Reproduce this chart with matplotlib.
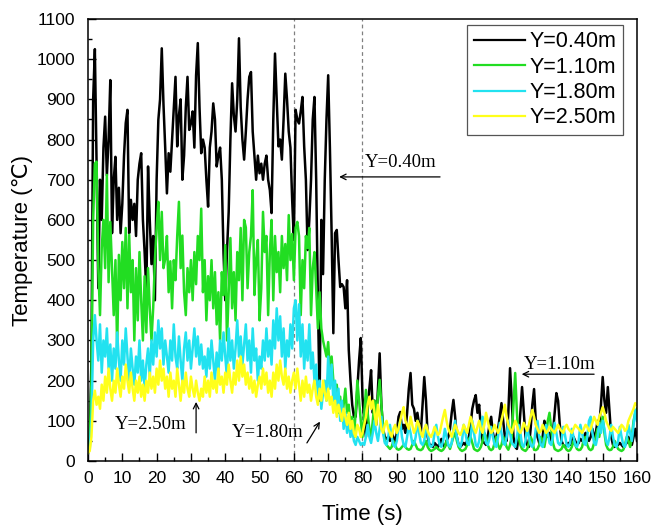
import numpy as np
import matplotlib
matplotlib.use("Agg")
import matplotlib.pyplot as plt

# ---------------- data (0.5 s sampling) ----------------
time_s = np.arange(0, 160.01, 0.5)

y040 = [
    20, 60, 250, 900, 1025, 740, 430, 700, 600, 780, 857, 711, 800, 948, 567, 700, 757, 600, 680, 567,
    640, 760, 841, 874, 567, 650, 600, 640, 560, 700, 740, 766, 600, 520, 418, 733, 600, 490, 560, 400,
    700, 849, 900, 1027, 887, 780, 666, 766, 720, 800, 880, 956, 783, 860, 900, 700, 760, 880, 956, 824,
    840, 870, 780, 960, 1040, 880, 766, 800, 780, 700, 633, 780, 820, 890, 850, 733, 760, 780, 700, 516,
    400, 520, 620, 800, 940, 860, 820, 900, 1052, 880, 800, 750, 820, 900, 956, 968, 820, 760, 700, 760,
    716, 740, 700, 740, 760, 700, 674, 617, 850, 1014, 900, 783, 800, 750, 850, 964, 900, 820, 780, 650,
    550, 874, 850, 840, 870, 906, 783, 700, 525, 600, 700, 850, 906, 700, 400, 150, 600, 465, 700, 850,
    960, 780, 567, 318, 567, 575, 500, 433, 440, 433, 380, 450, 276, 200, 140, 110, 110, 180, 250, 306,
    160, 100, 60, 130, 180, 226, 120, 150, 90, 180, 268, 140, 80, 60, 55, 60, 50, 70, 60, 45,
    70, 110, 122, 80, 90, 70, 120, 180, 219, 140, 130, 100, 120, 90, 70, 140, 209, 150, 60, 40,
    40, 35, 45, 40, 35, 45, 55, 40, 35, 50, 60, 80, 120, 152, 110, 60, 40, 35, 40, 45,
    40, 50, 60, 90, 130, 150, 164, 120, 140, 80, 50, 45, 40, 60, 90, 110, 70, 50, 60, 80,
    110, 144, 100, 60, 50, 120, 231, 150, 60, 35, 30, 60, 120, 184, 120, 60, 40, 35, 80, 140,
    179, 100, 60, 45, 40, 60, 100, 90, 60, 70, 50, 70, 120, 169, 150, 90, 50, 40, 35, 40,
    45, 40, 50, 60, 50, 40, 45, 55, 50, 60, 70, 60, 50, 60, 80, 60, 70, 100, 90, 140,
    209, 150, 120, 184, 120, 60, 40, 35, 40, 40, 45, 40, 35, 40, 45, 60, 50, 40, 60, 80,
    50,
]

y110 = [
    20, 40, 200, 600, 740, 745, 480, 363, 530, 600, 480, 712, 445, 595, 480, 363, 500, 281, 513, 400,
    545, 430, 580, 380, 563, 420, 500, 300, 480, 350, 520, 400, 300, 460, 320, 480, 380, 300, 381, 500,
    580, 645, 500, 620, 480, 503, 560, 420, 497, 380, 500, 450, 560, 645, 480, 561, 420, 363, 480, 420,
    500, 400, 520, 440, 560, 500, 628, 420, 500, 350, 460, 400, 500, 380, 470, 340, 420, 300, 470, 413,
    537, 300, 420, 555, 380, 470, 350, 520, 450, 580, 400, 600, 581, 430, 520, 560, 674, 413, 500, 550,
    350, 430, 620, 520, 560, 363, 520, 600, 400, 560, 470, 520, 420, 560, 480, 540, 450, 612, 500, 565,
    450, 580, 595, 560, 363, 500, 430, 560, 530, 580, 363, 480, 520, 430, 330, 420, 330, 300, 280, 260,
    296, 220, 260, 200, 150, 190, 120, 160, 100, 140, 180, 120, 140, 80, 110, 60, 120, 200, 150, 100,
    60, 120, 177, 120, 80, 60, 100, 150, 120, 160, 202, 140, 80, 50, 40, 35, 30, 35, 50, 40,
    30, 28, 30, 35, 40, 35, 30, 28, 30, 40, 50, 40, 30, 28, 27, 30, 40, 50, 35, 28,
    25, 27, 30, 35, 30, 27, 25, 28, 35, 50, 40, 30, 45, 60, 70, 50, 35, 28, 25, 27,
    30, 40, 55, 60, 45, 30, 27, 25, 28, 35, 50, 70, 60, 40, 30, 27, 30, 45, 60, 40,
    30, 40, 60, 50, 35, 28, 40, 60, 140, 219, 120, 60, 40, 30, 27, 25, 30, 45, 60, 50,
    28, 27, 30, 40, 60, 50, 35, 60, 100, 120, 80, 45, 30, 27, 25, 27, 30, 40, 35, 28,
    25, 27, 35, 50, 40, 30, 27, 28, 35, 55, 60, 40, 30, 27, 30, 45, 60, 80, 60, 90,
    110, 70, 40, 30, 27, 28, 35, 50, 40, 30, 27, 25, 28, 40, 60, 50, 35, 60, 100, 120,
    130,
]

y180 = [
    20, 30, 100, 300, 363, 300, 250, 340, 220, 300, 260, 330, 230, 290, 200, 280, 230, 320, 250, 200,
    300, 240, 330, 260, 200, 280, 230, 190, 260, 220, 300, 200, 250, 180, 240, 280, 210, 300, 240, 320,
    260, 350, 280, 330, 240, 300, 260, 220, 300, 250, 340, 260, 230, 310, 250, 200, 280, 320, 250, 300,
    230, 280, 330, 260, 310, 240, 290, 230, 260, 210, 280, 230, 300, 250, 200, 270, 220, 300, 250, 320,
    260, 210, 330, 250, 300, 230, 280, 350, 260, 310, 240, 290, 340, 250, 300, 220, 330, 250, 280, 200,
    260, 230, 300, 250, 330, 260, 300, 240, 350, 280, 380, 300, 360, 260, 330, 230, 300, 260, 340, 280,
    380, 400, 300, 390, 260, 340, 230, 300, 250, 340, 230, 270, 200, 240, 160, 200, 130, 170, 200, 150,
    260, 180, 240, 150, 200, 120, 180, 100, 150, 80, 120, 70, 100, 60, 80, 50, 40, 60, 50, 40,
    45, 40, 60, 90, 60, 45, 70, 100, 70, 50, 80, 110, 70, 45, 40, 60, 90, 60, 40, 35,
    50, 80, 100, 60, 40, 35, 60, 90, 70, 45, 40, 60, 100, 70, 45, 40, 50, 90, 70, 40,
    35, 40, 70, 90, 60, 40, 35, 50, 80, 60, 40, 35, 45, 80, 100, 60, 40, 35, 50, 90,
    70, 45, 40, 60, 100, 70, 40, 35, 50, 90, 110, 70, 45, 40, 55, 85, 60, 40, 35, 60,
    95, 70, 45, 40, 60, 100, 70, 45, 40, 35, 60, 90, 70, 40, 35, 50, 85, 60, 40, 35,
    45, 80, 100, 60, 40, 35, 55, 90, 70, 45, 40, 60, 95, 70, 45, 40, 50, 85, 65, 40,
    35, 45, 80, 60, 40, 35, 50, 90, 70, 45, 40, 60, 100, 110, 70, 45, 40, 60, 95, 70,
    100, 80, 50, 40, 60, 90, 60, 40, 35, 50, 85, 60, 40, 35, 55, 90, 70, 50, 90, 127,
    100,
]

y250 = [
    20, 25, 60, 150, 175, 140, 160, 130, 190, 150, 210, 170, 230, 180, 150, 200, 170, 230, 190, 160,
    210, 180, 240, 200, 170, 220, 180, 150, 200, 170, 210, 160, 190, 150, 200, 170, 220, 180, 210, 170,
    230, 190, 250, 200, 230, 180, 210, 160, 220, 180, 200, 160, 230, 190, 150, 200, 170, 220, 180, 160,
    210, 180, 160, 200, 170, 150, 180, 160, 210, 170, 200, 160, 220, 180, 200, 170, 230, 190, 210, 170,
    220, 190, 240, 200, 170, 220, 190, 250, 200, 260, 210, 240, 190, 220, 180, 210, 170, 200, 160, 190,
    210, 180, 230, 190, 220, 170, 200, 160, 220, 180, 240, 200, 250, 210, 190, 230, 180, 210, 170, 200,
    220, 180, 230, 190, 150, 200, 160, 210, 170, 190, 150, 180, 200, 160, 140, 180, 150, 200, 170, 150,
    180, 140, 160, 120, 150, 110, 140, 120, 100, 130, 110, 90, 120, 80, 100, 70, 60, 90, 80, 60,
    70, 90, 110, 140, 160, 130, 150, 120, 90, 140, 110, 80, 70, 90, 100, 80, 70, 60, 80, 90,
    70, 80, 100, 120, 134, 100, 90, 80, 110, 90, 70, 80, 100, 90, 70, 60, 80, 90, 75, 65,
    60, 70, 85, 75, 65, 70, 90, 110, 127, 100, 80, 70, 60, 75, 90, 80, 70, 65, 75, 90,
    80, 70, 90, 110, 95, 80, 70, 85, 100, 80, 70, 90, 120, 100, 80, 70, 75, 90, 80, 70,
    80, 100, 120, 140, 110, 90, 80, 70, 85, 100, 90, 75, 70, 80, 95, 85, 75, 90, 110, 127,
    110, 90, 80, 70, 75, 90, 80, 70, 75, 85, 80, 75, 70, 80, 90, 80, 75, 70, 85, 90,
    80, 75, 70, 80, 90, 85, 80, 75, 70, 80, 90, 85, 75, 80, 95, 110, 100, 90, 110, 120,
    134, 120, 100, 90, 80, 75, 85, 80, 75, 70, 80, 90, 85, 75, 80, 100, 110, 120, 130, 144,
    140,
]

labels = ["Y=0.40m", "Y=1.10m", "Y=1.80m", "Y=2.50m"]
colors = ["#000000", "#22DD22", "#22E2F0", "#FFFF1A"]
xticks = list(range(0, 161, 10))
yticks = list(range(0, 1101, 100))
marker_times = [60, 80]

# ---------------- figure ----------------
sans = ["Liberation Sans", "DejaVu Sans"]
serif = ["Liberation Serif", "DejaVu Serif"]

fig = plt.figure(figsize=(6.54, 5.27), dpi=100)
ax = fig.add_axes([88 / 654, 66 / 527, 549 / 654, 442 / 527])

for ys, lab, col in zip([y040, y110, y180, y250], labels, colors):
    ax.plot(time_s, ys, color=col, lw=1.8, label=lab)

for tm in marker_times:
    ax.axvline(tm, color="#808080", lw=0.9, ls=(0, (3, 2.5)), zorder=0)

ax.set_xlim(0, 160)
ax.set_ylim(0, 1100)
ax.set_xticks(xticks)
ax.set_yticks(yticks)
ax.set_xticks(np.arange(5, 160, 10), minor=True)
ax.set_yticks(np.arange(50, 1100, 100), minor=True)
ax.tick_params(which="both", direction="in", top=False, right=False)
ax.tick_params(which="major", length=6, width=1)
ax.tick_params(which="minor", length=3, width=1)
ax.tick_params(axis="y", pad=9)
ax.tick_params(axis="x", pad=7)
for lbl in ax.get_xticklabels() + ax.get_yticklabels():
    lbl.set_fontfamily(sans)
    lbl.set_fontsize(12.5)
for sp in ax.spines.values():
    sp.set_linewidth(1.1)

ax.set_xlabel("Time (s)", fontsize=16, family=sans, labelpad=13)
ax.set_ylabel("Temperature (\u2103)", fontsize=16, family=sans, labelpad=3)

leg = ax.legend(loc="upper right", bbox_to_anchor=(0.9745, 0.9864), borderaxespad=0,
                prop={"family": sans, "size": 15.5}, fancybox=False, framealpha=1,
                edgecolor="#555555", handlelength=2.4, handletextpad=0.2,
                labelspacing=0.2, borderpad=0.3)
leg.get_frame().set_linewidth(0.9)
for lh in leg.get_lines():
    lh.set_linewidth(1.6)

ann = dict(fontsize=13.5, family=serif, color="black")
arw = dict(arrowstyle="->", color="black", lw=0.9, shrinkA=0, shrinkB=0)
ax.text(80.8, 742, "Y=0.40m", va="center", ha="left", **ann)
ax.annotate("", xy=(73.2, 707), xytext=(102.6, 707), arrowprops=arw)
ax.text(126.9, 240, "Y=1.10m", va="center", ha="left", **ann)
ax.annotate("", xy=(126.4, 216), xytext=(147.5, 216), arrowprops=arw)
ax.text(7.9, 92, "Y=2.50m", va="center", ha="left", **ann)
ax.annotate("", xy=(31.5, 147), xytext=(31.5, 70), arrowprops=arw)
ax.text(42.0, 72, "Y=1.80m", va="center", ha="left", **ann)
ax.annotate("", xy=(67.6, 98), xytext=(63.8, 45), arrowprops=arw)

fig.savefig("out.png", dpi=100)
